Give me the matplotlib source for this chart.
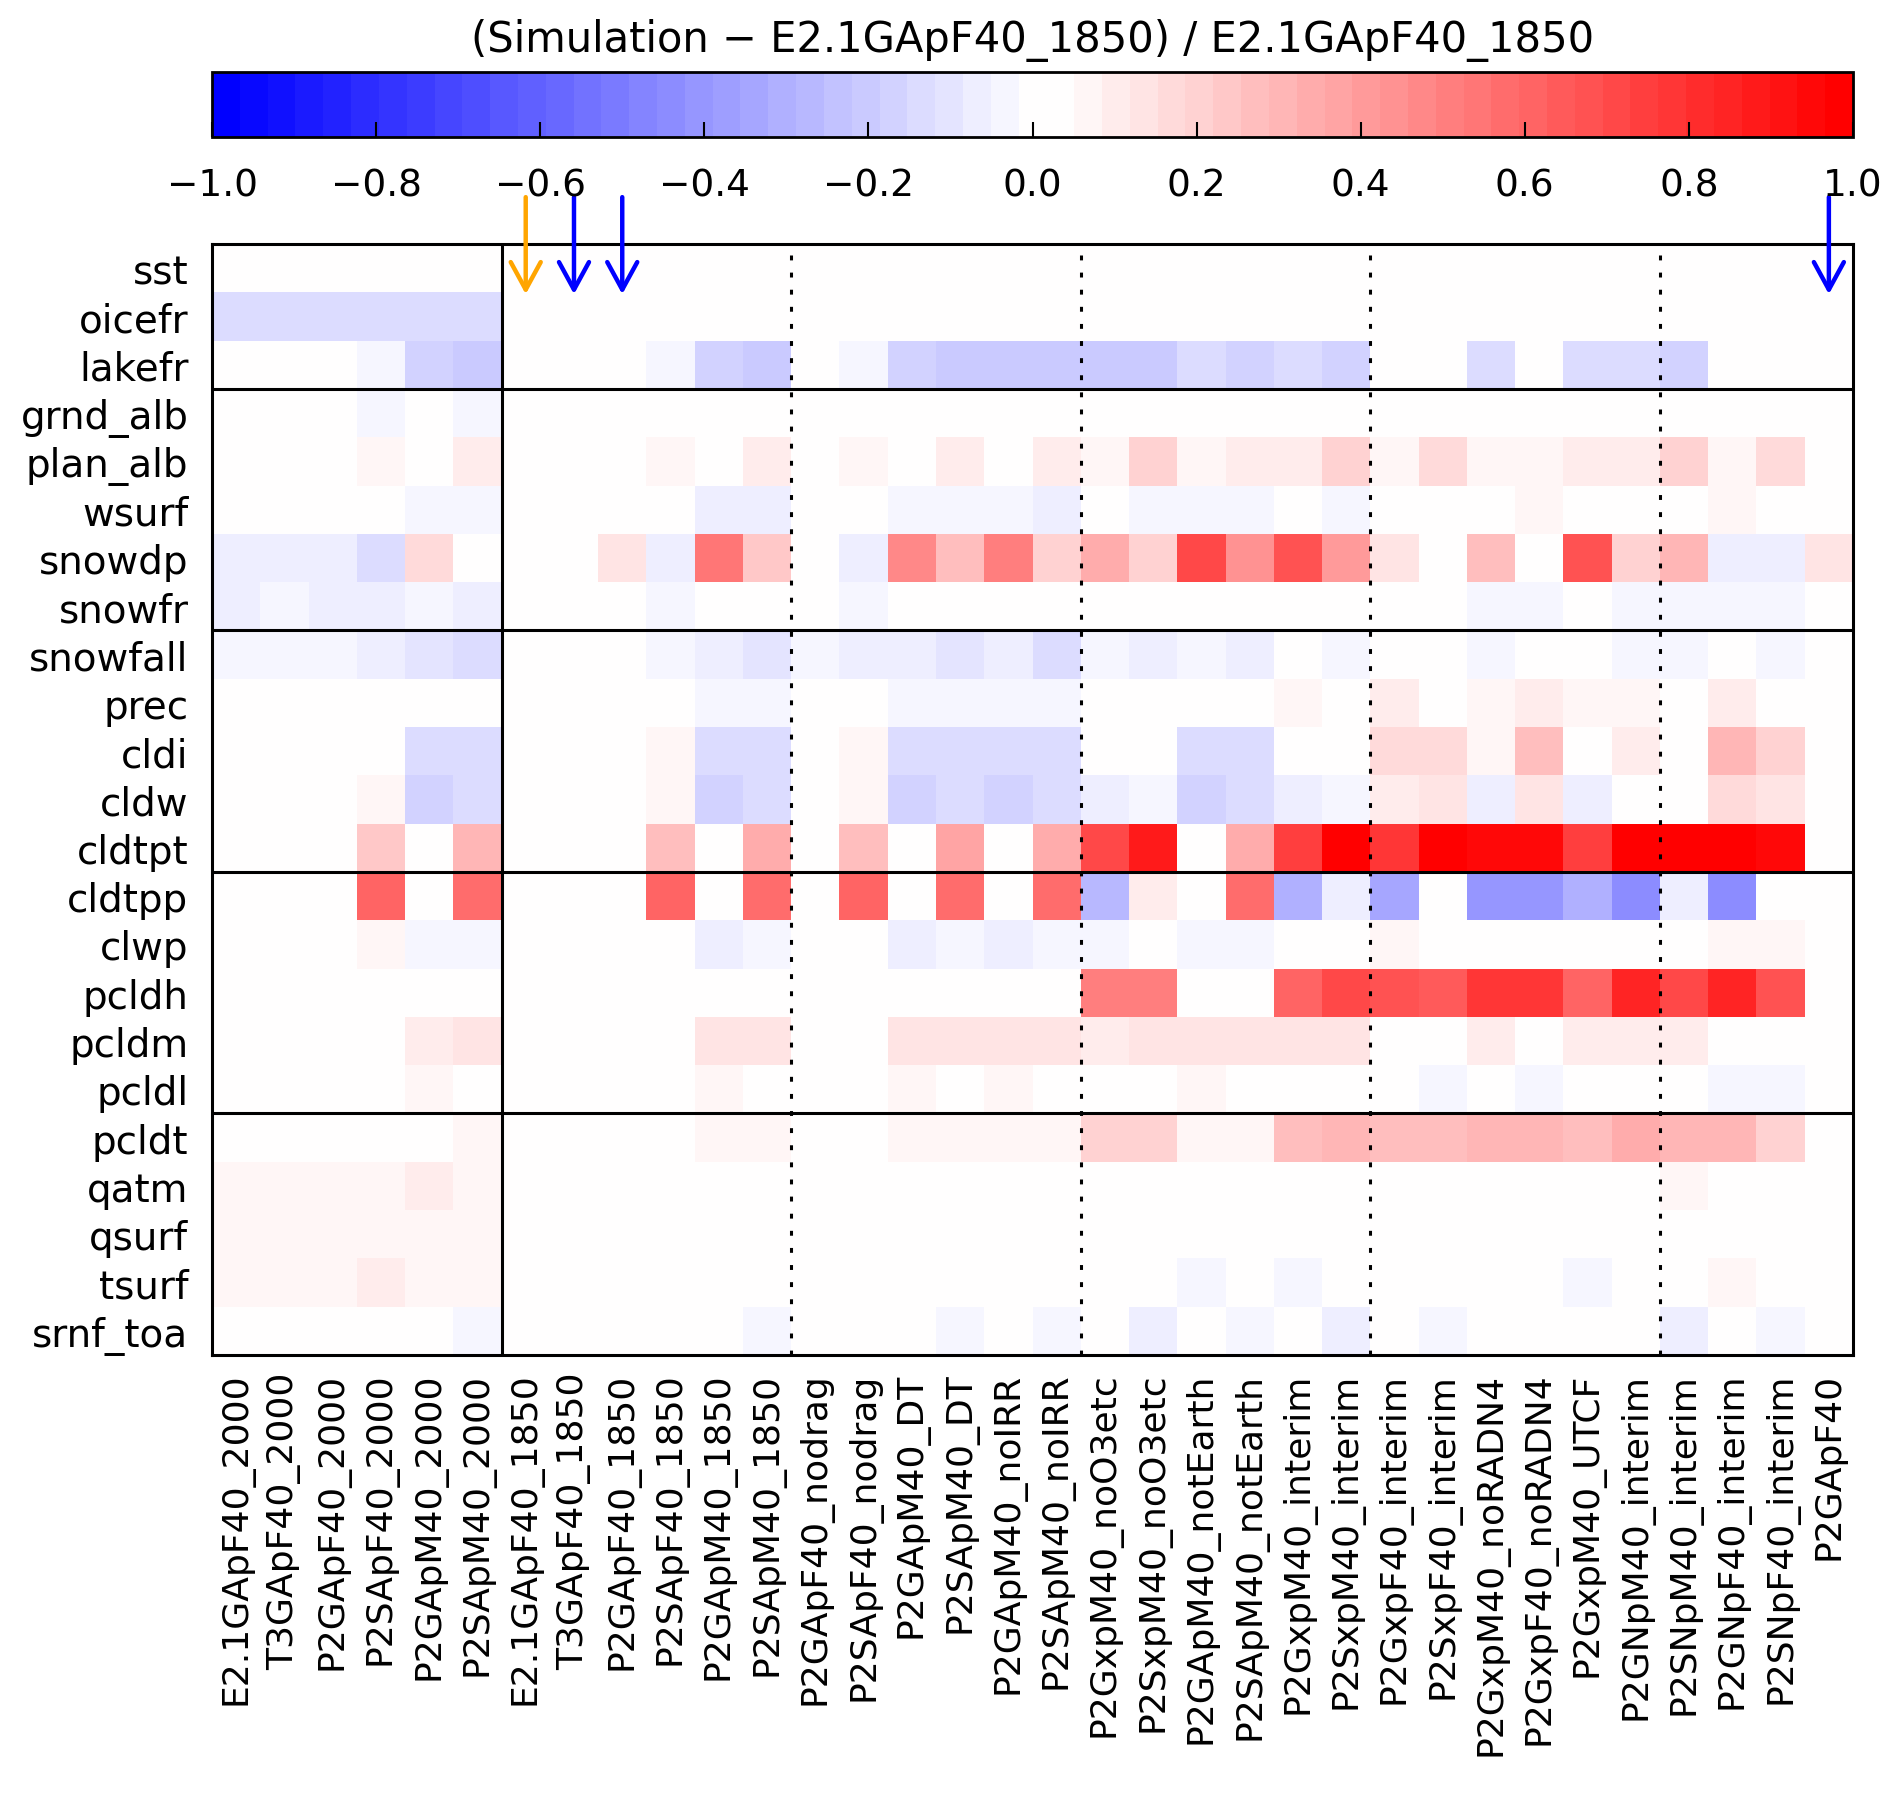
import numpy as np
import matplotlib
matplotlib.use("Agg")
import matplotlib.pyplot as plt
from matplotlib.colors import ListedColormap, BoundaryNorm

plt.rcParams['font.family'] = ['DejaVu Sans']

title = "(Simulation \u2212 E2.1GApF40_1850) / E2.1GApF40_1850"

variables = ["sst", "oicefr", "lakefr", "grnd_alb", "plan_alb", "wsurf", "snowdp", "snowfr",
             "snowfall", "prec", "cldi", "cldw", "cldtpt", "cldtpp", "clwp", "pcldh", "pcldm",
             "pcldl", "pcldt", "qatm", "qsurf", "tsurf", "srnf_toa"]

simulations = ["E2.1GApF40_2000", "T3GApF40_2000", "P2GApF40_2000", "P2SApF40_2000",
               "P2GApM40_2000", "P2SApM40_2000", "E2.1GApF40_1850", "T3GApF40_1850",
               "P2GApF40_1850", "P2SApF40_1850", "P2GApM40_1850", "P2SApM40_1850",
               "P2GApF40_nodrag", "P2SApF40_nodrag", "P2GApM40_DT", "P2SApM40_DT",
               "P2GApM40_noIRR", "P2SApM40_noIRR", "P2GxpM40_noO3etc", "P2SxpM40_noO3etc",
               "P2GApM40_notEarth", "P2SApM40_notEarth", "P2GxpM40_interim", "P2SxpM40_interim",
               "P2GxpF40_interim", "P2SxpF40_interim", "P2GxpM40_noRADN4", "P2GxpF40_noRADN4",
               "P2GxpM40_UTCF", "P2GNpM40_interim", "P2SNpM40_interim", "P2GNpF40_interim",
               "P2SNpF40_interim", "P2GApF40"]

sst      = [0, 0, 0, 0, 0, 0,  0, 0, 0, 0, 0, 0,  0, 0, 0, 0, 0, 0,  0, 0, 0, 0, 0, 0,  0, 0, 0, 0, 0, 0,  0, 0, 0, 0]
oicefr   = [-.12, -.12, -.12, -.15, -.12, -.12,  0, 0, 0, 0, 0, 0,  0, 0, 0, 0, 0, 0,  0, 0, 0, 0, 0, 0,  0, 0, 0, 0, 0, 0,  0, 0, 0, 0]
lakefr   = [0, 0, 0, -.04, -.18, -.22,  0, 0, 0, -.04, -.18, -.22,  0, -.04, -.18, -.21, -.19, -.22,  -.19, -.22, -.15, -.18, -.15, -.18,  0, 0, -.15, 0, -.15, -.15,  -.18, 0, 0, 0]
grnd_alb = [0, 0, 0, -.04, 0, -.04,  0, 0, 0, 0, 0, 0,  0, 0, 0, 0, 0, 0,  0, 0, 0, 0, 0, 0,  0, 0, 0, 0, 0, 0,  0, 0, 0, 0]
plan_alb = [0, 0, 0, .07, 0, .1,  0, 0, 0, .07, 0, .1,  0, .07, 0, .1, 0, .1,  .07, .2, .07, .1, .1, .2,  .07, .18, .07, .07, .1, .1,  .2, .07, .18, 0]
wsurf    = [0, 0, 0, 0, -.04, -.04,  0, 0, 0, 0, -.07, -.07,  0, 0, -.04, -.04, -.04, -.07,  0, -.04, -.04, -.04, 0, -.04,  0, 0, 0, .07, 0, 0,  0, .07, 0, 0]
snowdp   = [-.07, -.07, -.07, -.15, .18, 0,  0, 0, .13, -.07, .53, .24,  0, -.07, .46, .27, .51, .22,  .34, .22, .72, .43, .68, .39,  .15, 0, .27, 0, .68, .22,  .3, -.07, -.07, .13]
snowfr   = [-.07, -.04, -.07, -.07, -.04, -.07,  0, 0, 0, -.04, 0, 0,  0, -.04, 0, 0, 0, 0,  0, 0, 0, 0, 0, 0,  0, 0, -.04, -.04, 0, -.04,  -.04, -.04, -.04, 0]
snowfall = [-.04, -.04, -.04, -.07, -.1, -.15,  0, 0, 0, -.04, -.07, -.1,  -.04, -.07, -.07, -.1, -.07, -.12,  -.04, -.07, -.04, -.07, 0, -.04,  0, 0, -.04, 0, 0, -.04,  -.04, 0, -.04, 0]
prec     = [0, 0, 0, 0, 0, 0,  0, 0, 0, 0, -.04, -.04,  0, 0, -.04, -.04, -.04, -.04,  0, 0, 0, 0, .07, 0,  .1, 0, .07, .1, .07, .07,  0, .1, 0, 0]
cldi     = [0, 0, 0, 0, -.15, -.12,  0, 0, 0, .07, -.15, -.12,  0, .07, -.15, -.12, -.15, -.12,  0, 0, -.15, -.12, 0, 0,  .18, .18, .07, .27, 0, .1,  0, .32, .2, 0]
cldw     = [0, 0, 0, .07, -.18, -.12,  0, 0, 0, .07, -.18, -.12,  0, .07, -.18, -.12, -.18, -.15,  -.07, -.04, -.18, -.15, -.07, -.04,  .1, .15, -.07, .15, -.07, 0,  0, .18, .15, 0]
cldtpt   = [0, 0, 0, .24, 0, .32,  0, 0, 0, .27, 0, .34,  0, .27, 0, .37, 0, .34,  .7, .89, 0, .34, .75, .99,  .79, .97, .94, .94, .75, .99,  .99, .99, .94, 0]
cldtpp   = [0, 0, 0, .62, 0, .56,  0, 0, 0, .62, 0, .56,  0, .62, 0, .56, 0, .56,  -.28, .1, 0, .56, -.3, -.07,  -.33, 0, -.42, -.42, -.32, -.45,  -.07, -.45, 0, 0]
clwp     = [0, 0, 0, .07, -.04, -.04,  0, 0, 0, 0, -.07, -.04,  0, 0, -.07, -.04, -.07, -.04,  -.04, 0, -.04, -.04, 0, 0,  .07, 0, 0, 0, 0, 0,  0, .07, .07, 0]
pcldh    = [0, 0, 0, 0, 0, 0,  0, 0, 0, 0, 0, 0,  0, 0, 0, 0, 0, 0,  .51, .51, 0, 0, .62, .7,  .68, .65, .79, .79, .62, .84,  .7, .84, .68, 0]
pcldm    = [0, 0, 0, 0, .1, .13,  0, 0, 0, 0, .13, .13,  0, 0, .13, .13, .13, .13,  .1, .13, .13, .13, .13, .13,  0, 0, .1, 0, .1, .1,  .1, 0, 0, 0]
pcldl    = [0, 0, 0, 0, .07, 0,  0, 0, 0, 0, .07, 0,  0, 0, .07, 0, .07, 0,  0, 0, .07, 0, 0, 0,  0, -.03, 0, -.03, 0, 0,  0, -.03, -.03, 0]
pcldt    = [0, 0, 0, 0, 0, .07,  0, 0, 0, 0, .07, .07,  0, 0, .07, .07, .07, .07,  .22, .22, .07, .07, .27, .3,  .27, .27, .3, .3, .27, .34,  .32, .32, .22, 0]
qatm     = [.07, .07, .07, .07, .1, .07,  0, 0, 0, 0, 0, 0,  0, 0, 0, 0, 0, 0,  0, 0, 0, 0, 0, 0,  0, 0, 0, 0, 0, 0,  .07, 0, 0, 0]
qsurf    = [.07, .07, .07, .07, .07, .07,  0, 0, 0, 0, 0, 0,  0, 0, 0, 0, 0, 0,  0, 0, 0, 0, 0, 0,  0, 0, 0, 0, 0, 0,  0, 0, 0, 0]
tsurf    = [.07, .07, .07, .1, .07, .07,  0, 0, 0, 0, 0, 0,  0, 0, 0, 0, 0, 0,  0, 0, -.03, 0, -.03, 0,  0, 0, 0, 0, -.03, 0,  0, .07, 0, 0]
srnf_toa = [0, 0, 0, 0, 0, -.03,  0, 0, 0, 0, 0, -.03,  0, 0, 0, -.03, 0, -.03,  0, -.07, 0, -.03, 0, -.07,  0, -.03, 0, 0, 0, 0,  -.07, 0, -.03, 0]

row_separators = [3, 8, 13, 18]
solid_col_separators = [6]
dotted_col_separators = [12, 18, 24, 30]
arrow_cols = [6, 7, 8, 33]
arrow_colors = ["orange", "blue", "blue", "blue"]
cbar_ticks = [-1.0, -0.8, -0.6, -0.4, -0.2, 0.0, 0.2, 0.4, 0.6, 0.8, 1.0]

data = np.array([sst, oicefr, lakefr, grnd_alb, plan_alb, wsurf, snowdp, snowfr, snowfall,
                 prec, cldi, cldw, cldtpt, cldtpp, clwp, pcldh, pcldm, pcldl, pcldt,
                 qatm, qsurf, tsurf, srnf_toa], dtype=float)

# discrete blue-white-red colour table (59 levels, two white levels around zero)
nlev = 59
bounds = np.linspace(-1, 1, nlev + 1)
base = plt.get_cmap("bwr")
level_vals = []
for i in range(nlev):
    if i <= 29:
        level_vals.append((i - 29) / 29.0)
    else:
        level_vals.append((i - 30) / 28.0)
cmap = ListedColormap(base(0.5 + 0.5 * np.array(level_vals)))
norm = BoundaryNorm(bounds, nlev)

W, H = 1892, 1799
fig = plt.figure(figsize=(W / 100, H / 100), dpi=100)
ax = fig.add_axes([212 / W, 1 - 1356 / H, 1641 / W, 1111 / H])
cax = fig.add_axes([212 / W, 1 - 138 / H, 1641 / W, 65 / H])

nrow, ncol = data.shape
mesh = ax.pcolormesh(np.arange(ncol + 1), np.arange(nrow + 1), data, cmap=cmap, norm=norm)
ax.set_xlim(0, ncol)
ax.set_ylim(nrow, 0)

for r in row_separators:
    ax.axhline(r, color="black", lw=2.2)
for c in solid_col_separators:
    ax.axvline(c, color="black", lw=2.2)
for c in dotted_col_separators:
    ax.axvline(c, color="black", lw=2.2, ls=(0, (1.6, 4.0)))

for s in ax.spines.values():
    s.set_linewidth(2.2)

ax.set_yticks(np.arange(nrow) + 0.5)
ax.set_yticklabels(variables, fontsize=28)
ax.set_xticks(np.arange(ncol) + 0.5)
ax.set_xticklabels(simulations, fontsize=26, rotation=90)
ax.tick_params(axis="y", length=0, pad=17)
ax.tick_params(axis="x", length=0, pad=12)

for c, col in zip(arrow_cols, arrow_colors):
    ax.annotate("", xy=(c + 0.5, 1.04), xytext=(c + 0.5, -0.97),
                xycoords="data", textcoords="data", annotation_clip=False,
                arrowprops=dict(arrowstyle="->,head_length=0.55,head_width=0.3",
                                color=col, lw=3.2, mutation_scale=36,
                                shrinkA=0, shrinkB=0))

cb = fig.colorbar(mesh, cax=cax, orientation="horizontal", ticks=cbar_ticks)
cb.minorticks_off()
cb.outline.set_linewidth(2.0)
cb.set_ticklabels([("%.1f" % t).replace("-", "\u2212") for t in cbar_ticks])
cax.tick_params(axis="x", which="major", direction="in", length=11, width=1.5, pad=22,
                labelsize=27, color="black")
cax.tick_params(axis="x", which="minor", length=0)

fig.text(1032.5 / W, 1 - 40 / H, title, ha="center", va="center", fontsize=30)

fig.savefig("out.png", dpi=100, facecolor="white")
